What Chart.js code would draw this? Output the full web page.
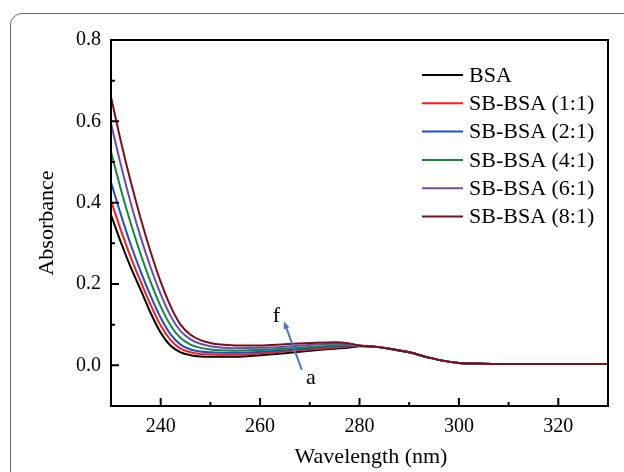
<!DOCTYPE html>
<html>
<head>
<meta charset="utf-8">
<script src="https://cdn.jsdelivr.net/npm/chart.js@4.4.1/dist/chart.umd.min.js"></script>
<style>
  html, body { margin: 0; padding: 0; background: #fff; }
  #wrap { position: relative; width: 624px; height: 472px; overflow: hidden; }
  #frame { position: absolute; left: 10px; top: 13px; width: 700px; height: 600px;
           border: 1.5px solid #6a6a6a; border-top-left-radius: 12px; box-sizing: border-box; }
  canvas { position: absolute; left: 0; top: 0; }
</style>
</head>
<body>
<div id="wrap"><div id="frame"></div><canvas id="uv" width="624" height="472"></canvas></div>
<script>
// UV-vis absorbance of BSA with increasing SB ratio
const WAVELENGTHS = [230, 232, 234, 236, 238, 240, 242, 244, 246, 248, 250, 252, 255, 260, 265, 270, 275, 278, 280, 283, 286, 290, 294, 297, 300, 305, 310, 320, 330];

const ABS_BSA  = [0.370, 0.302, 0.240, 0.185, 0.128, 0.080, 0.048, 0.032, 0.025, 0.022, 0.021, 0.021, 0.021, 0.025, 0.030, 0.036, 0.041, 0.044, 0.047, 0.046, 0.041, 0.032, 0.019, 0.011, 0.006, 0.004, 0.003, 0.003, 0.003];
const ABS_1_1  = [0.405, 0.332, 0.265, 0.205, 0.148, 0.098, 0.062, 0.041, 0.032, 0.028, 0.027, 0.026, 0.026, 0.029, 0.034, 0.039, 0.043, 0.046, 0.048, 0.046, 0.041, 0.032, 0.019, 0.011, 0.006, 0.004, 0.003, 0.003, 0.003];
const ABS_2_1  = [0.450, 0.370, 0.296, 0.230, 0.170, 0.117, 0.076, 0.051, 0.039, 0.034, 0.032, 0.031, 0.031, 0.033, 0.037, 0.042, 0.046, 0.048, 0.048, 0.046, 0.041, 0.032, 0.019, 0.011, 0.006, 0.004, 0.003, 0.003, 0.003];
const ABS_4_1  = [0.525, 0.432, 0.348, 0.272, 0.204, 0.145, 0.098, 0.067, 0.051, 0.043, 0.039, 0.037, 0.036, 0.038, 0.041, 0.045, 0.049, 0.050, 0.048, 0.046, 0.041, 0.032, 0.019, 0.011, 0.006, 0.004, 0.003, 0.003, 0.003];
const ABS_6_1  = [0.595, 0.492, 0.398, 0.314, 0.240, 0.175, 0.121, 0.084, 0.064, 0.053, 0.047, 0.044, 0.042, 0.043, 0.046, 0.050, 0.053, 0.052, 0.048, 0.046, 0.041, 0.032, 0.019, 0.011, 0.006, 0.004, 0.003, 0.003, 0.003];
const ABS_8_1  = [0.660, 0.550, 0.450, 0.360, 0.278, 0.205, 0.145, 0.100, 0.075, 0.062, 0.055, 0.051, 0.049, 0.049, 0.052, 0.055, 0.057, 0.054, 0.049, 0.046, 0.041, 0.032, 0.019, 0.011, 0.006, 0.004, 0.003, 0.003, 0.003];

const SERIES = [ABS_BSA, ABS_1_1, ABS_2_1, ABS_4_1, ABS_6_1, ABS_8_1];
const SERIES_LABELS = ['BSA', 'SB-BSA (1:1)', 'SB-BSA (2:1)', 'SB-BSA (4:1)', 'SB-BSA (6:1)', 'SB-BSA (8:1)'];
const SERIES_COLORS = ['#000000', '#ff1a1a', '#1f4fc4', '#138a3a', '#6b4cb0', '#7a0f1a'];

const X_TICKS = [240, 260, 280, 300, 320];
const X_MINOR = [250, 270, 290, 310];
const Y_TICKS = [0.0, 0.2, 0.4, 0.6, 0.8];
const Y_MINOR = [0.1, 0.3, 0.5, 0.7];

// arrow from curve a to curve f, in data units
const ARROW_FROM = [268.4, -0.011];
const ARROW_TO = [264.8, 0.108];
const LABEL_F = [263.3, 0.122];
const LABEL_A = [270.2, -0.032];

const SERIF = "'Liberation Serif', 'DejaVu Serif', serif";

const datasets = SERIES.map((vals, i) => ({
  label: SERIES_LABELS[i],
  data: WAVELENGTHS.map((w, j) => ({ x: w, y: vals[j] })),
  borderColor: SERIES_COLORS[i],
  borderWidth: 2,
  pointRadius: 0,
  cubicInterpolationMode: 'monotone',
  order: SERIES.length - i,
}));

const decor = {
  id: 'decor',
  afterDraw(chart) {
    const ctx = chart.ctx;
    const { left, right, top, bottom } = chart.chartArea;
    const xs = chart.scales.x, ys = chart.scales.y;
    ctx.save();

    // frame and inward ticks
    ctx.strokeStyle = '#000';
    ctx.lineWidth = 2;
    ctx.strokeRect(left, top, right - left, bottom - top);
    ctx.beginPath();
    X_TICKS.forEach(v => { const p = xs.getPixelForValue(v); ctx.moveTo(p, bottom); ctx.lineTo(p, bottom - 8); });
    X_MINOR.forEach(v => { const p = xs.getPixelForValue(v); ctx.moveTo(p, bottom); ctx.lineTo(p, bottom - 4); });
    Y_TICKS.forEach(v => { const p = ys.getPixelForValue(v); ctx.moveTo(left, p); ctx.lineTo(left + 8, p); });
    Y_MINOR.forEach(v => { const p = ys.getPixelForValue(v); ctx.moveTo(left, p); ctx.lineTo(left + 4, p); });
    ctx.stroke();

    // axis titles
    ctx.fillStyle = '#000';
    ctx.font = '22px ' + SERIF;
    ctx.textAlign = 'center';
    ctx.textBaseline = 'middle';
    ctx.fillText('Wavelength (nm)', 371, 457);
    ctx.save();
    ctx.translate(47, (top + bottom) / 2);
    ctx.rotate(-Math.PI / 2);
    ctx.fillText('Absorbance', 0, 0);
    ctx.restore();

    // legend
    ctx.textAlign = 'left';
    chart.data.datasets.forEach((ds, i) => {
      const y = 75 + i * 28.3;
      ctx.strokeStyle = ds.borderColor;
      ctx.lineWidth = 2;
      ctx.beginPath();
      ctx.moveTo(422, y);
      ctx.lineTo(463, y);
      ctx.stroke();
      ctx.fillStyle = '#000';
      ctx.fillText(ds.label, 469, y + 1);
    });

    // arrow a -> f
    const x0 = xs.getPixelForValue(ARROW_FROM[0]), y0 = ys.getPixelForValue(ARROW_FROM[1]);
    const x1 = xs.getPixelForValue(ARROW_TO[0]), y1 = ys.getPixelForValue(ARROW_TO[1]);
    const ang = Math.atan2(y1 - y0, x1 - x0);
    ctx.strokeStyle = '#4a78c8';
    ctx.fillStyle = '#4a78c8';
    ctx.lineWidth = 2;
    ctx.beginPath();
    ctx.moveTo(x0, y0);
    ctx.lineTo(x1 - 4 * Math.cos(ang), y1 - 4 * Math.sin(ang));
    ctx.stroke();
    ctx.beginPath();
    ctx.moveTo(x1, y1);
    ctx.lineTo(x1 - 8 * Math.cos(ang - 0.4), y1 - 8 * Math.sin(ang - 0.4));
    ctx.lineTo(x1 - 8 * Math.cos(ang + 0.4), y1 - 8 * Math.sin(ang + 0.4));
    ctx.closePath();
    ctx.fill();

    ctx.fillStyle = '#000';
    ctx.textAlign = 'center';
    ctx.fillText('f', xs.getPixelForValue(LABEL_F[0]), ys.getPixelForValue(LABEL_F[1]));
    ctx.fillText('a', xs.getPixelForValue(LABEL_A[0]), ys.getPixelForValue(LABEL_A[1]));
    ctx.restore();
  }
};

new Chart(document.getElementById('uv'), {
  type: 'line',
  data: { datasets },
  options: {
    responsive: false,
    devicePixelRatio: 1,
    animation: false,
    layout: { padding: { left: 0, top: 40, right: 16, bottom: 0 } },
    plugins: { legend: { display: false }, tooltip: { enabled: false } },
    scales: {
      x: {
        type: 'linear',
        min: 230,
        max: 330,
        grid: { display: false, drawTicks: false },
        border: { display: false },
        afterBuildTicks: s => { s.ticks = X_TICKS.map(v => ({ value: v })); },
        afterFit: s => { s.height = 66; },
        ticks: { padding: 9, color: '#000', font: { family: SERIF, size: 20 }, maxRotation: 0 },
      },
      y: {
        min: -0.1,
        max: 0.8,
        grid: { display: false, drawTicks: false },
        border: { display: false },
        afterBuildTicks: s => { s.ticks = Y_TICKS.map(v => ({ value: v })); },
        afterFit: s => { s.width = 111; },
        ticks: { padding: 10, color: '#000', font: { family: SERIF, size: 20 }, callback: v => v.toFixed(1) },
      },
    },
  },
  plugins: [decor],
});
</script>
</body>
</html>
